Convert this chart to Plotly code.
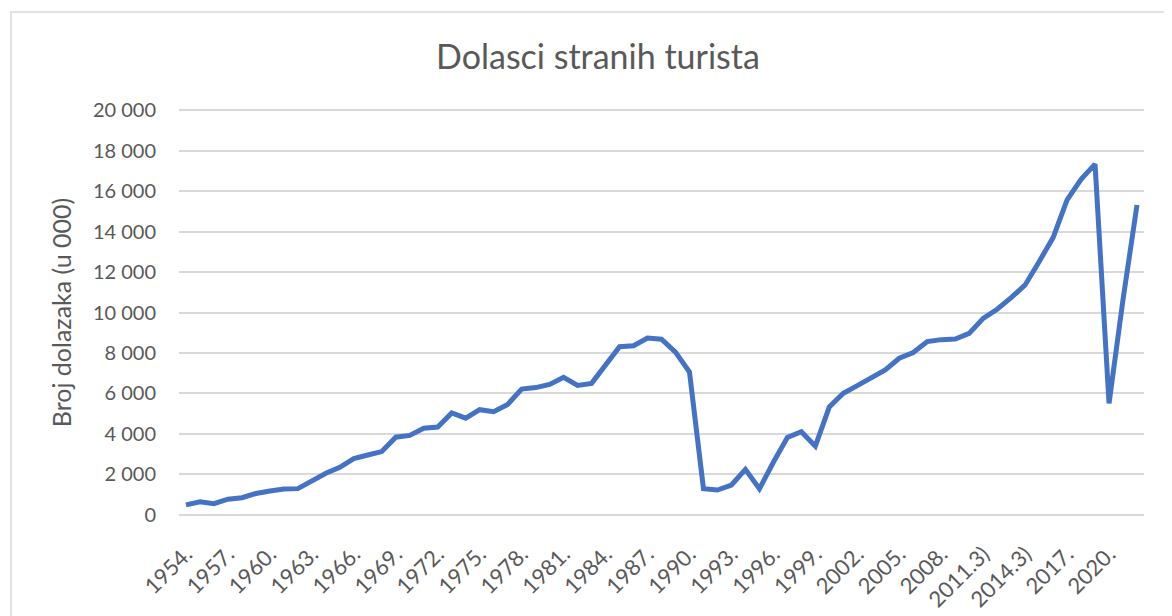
import plotly.graph_objects as go

years = list(range(1954, 2023))
footnote_years = [2011, 2012, 2013, 2014, 2015, 2016]
categories = [f"{y}.3)" if y in footnote_years else f"{y}." for y in years]

arrivals = [
    500, 650, 560, 780, 850, 1060, 1180, 1280, 1300, 1660,
    2060, 2350, 2780, 2960, 3130, 3840, 3930, 4280, 4340, 5040,
    4780, 5200, 5100, 5460, 6220, 6290, 6450, 6800, 6400, 6500,
    7370, 8310, 8360, 8740, 8680, 8040, 7060, 1300, 1230, 1480,
    2250, 1290, 2600, 3830, 4110, 3400, 5340, 6010, 6390, 6810,
    7160, 7740, 8020, 8560, 8660, 8690, 8970, 9710, 10160, 10730,
    11360, 12510, 13700, 15560, 16580, 17330, 5510, 10640, 15310,
]

y_ticks = [0, 2000, 4000, 6000, 8000, 10000, 12000, 14000, 16000, 18000, 20000]
y_ticktext = ["0", "2 000", "4 000", "6 000", "8 000", "10 000", "12 000",
              "14 000", "16 000", "18 000", "20 000"]
x_ticks = categories[::3]

title_text = "Dolasci stranih turista"
y_title = "Broj dolazaka (u 000)"

FONT = "Lato, 'Open Sans', sans-serif"
GREY = "#595959"

# the page body has an 8px margin: figure pixel = screen pixel - 8
# value axis 0..20000 spans screen y 515..110; extend range by 200 each side
# (about 4px) so the edge grid lines are drawn
PAD = 200
L, W = 171, 965
T, H = 98, 413
FW, FH = 1172, 616

fig = go.Figure()
fig.add_trace(go.Scatter(
    x=categories, y=arrivals, mode="lines",
    line=dict(color="#4472C4", width=5, shape="linear"),
    hoverinfo="x+y", showlegend=False,
))

fig.update_layout(
    width=FW, height=FH,
    paper_bgcolor="white", plot_bgcolor="white",
    margin=dict(l=L, r=FW - L - W, t=T, b=FH - T - H, autoexpand=False),
    font=dict(family=FONT, color=GREY, size=20),
    title=dict(text=title_text, x=590 / FW, xref="container", xanchor="center",
               y=1 - 49 / FH, yref="container", yanchor="middle",
               font=dict(family=FONT, size=34, color=GREY)),
    xaxis=dict(
        type="category", categoryorder="array", categoryarray=categories,
        range=[-0.5, len(categories) - 0.5],
        tickmode="array", tickvals=x_ticks, ticktext=x_ticks,
        tickangle=-45, showgrid=False, showline=False, zeroline=False,
        ticks="", ticklabelstandoff=17,
        tickfont=dict(family=FONT, size=22, color=GREY),
        automargin=False,
    ),
    yaxis=dict(
        range=[-PAD, 20000 + PAD], tickmode="array", tickvals=y_ticks,
        ticktext=y_ticktext,
        showgrid=True, gridcolor="#d9d9d9", gridwidth=1.5,
        zeroline=False, showline=False, ticks="", ticklabelstandoff=22,
        tickfont=dict(family=FONT, size=20, color=GREY),
        title=dict(text=y_title, standoff=14,
                   font=dict(family=FONT, size=25, color=GREY)),
        automargin=False,
    ),
)

# chart-area border (Excel style), extends beyond the visible image on right/bottom
fig.add_shape(type="rect", xref="paper", yref="paper",
              x0=(3 - L) / W, x1=(FW + 10 - L) / W,
              y0=-(FH + 10 - T - H) / H, y1=(T + H - 4) / H,
              line=dict(color="#d9d9d9", width=1.5), fillcolor="rgba(0,0,0,0)",
              layer="below")

fig.write_html("out.html")
